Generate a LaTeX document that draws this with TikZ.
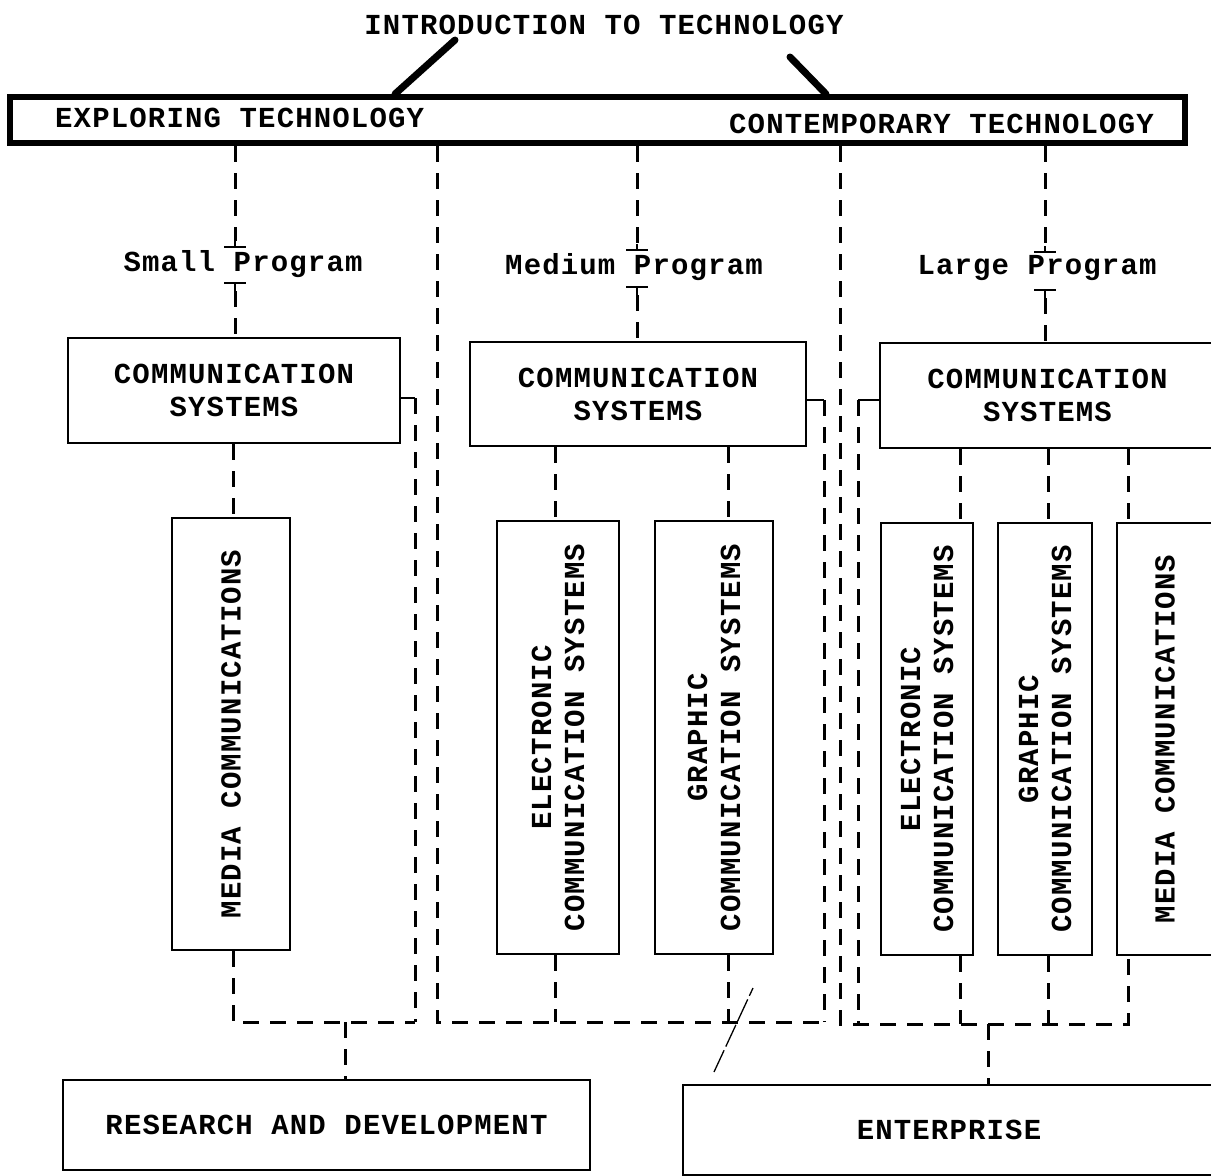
\documentclass[tikz,border=0pt]{standalone}
\usepackage{fontspec}
\newfontfamily\tw[LetterSpace=4]{Liberation Mono}
\begin{document}
\begin{tikzpicture}[x=1pt,y=-1pt,
  txt/.style={font=\tw\bfseries\fontsize{29}{33}\selectfont, inner sep=0pt, align=center},
  box/.style={draw, line width=2.5pt, txt},
  dsh/.style={line width=3pt, dash pattern=on 16pt off 11pt},
  sol/.style={line width=2.5pt},
  heavy/.style={line width=7pt, line cap=round}]
\useasboundingbox[fill=white] (0,0) rectangle (1211,1176);

% title and top bar
\node[txt] (title) at (604,25) {INTRODUCTION TO TECHNOLOGY};
\node[draw, line width=6pt, minimum width=1175, minimum height=46, inner sep=0pt] (bar) at (597.5,120) {};
\node[txt, anchor=west] (expl) at (55,118) {EXPLORING TECHNOLOGY};
\node[txt, anchor=east] (cont) at (1154,124) {CONTEMPORARY TECHNOLOGY};
\coordinate (tl) at (455,40);
\coordinate (tr) at (790,57);
\coordinate (bl) at (395,0);
\coordinate (br) at (826,0);
\draw[heavy] (tl) -- (bar.north -| bl);
\draw[heavy] (tr) -- (bar.north -| br);

% program labels
\node[txt] (sp) at (243,264) {Small Program};
\node[txt] (mp) at (634,267) {Medium Program};
\node[txt] (lp) at (1037,268) {Large Program};

% communication systems boxes
\node[box, minimum width=332, minimum height=105] (cs1) at (234,390.5) {COMMUNICATION\\SYSTEMS};
\node[box, minimum width=336, minimum height=104] (cs2) at (638,394) {COMMUNICATION\\SYSTEMS};
\node[box, minimum width=335, minimum height=105] (cs3) at (1047.5,395.5) {COMMUNICATION\\SYSTEMS};

% vertical boxes (rotated: east = top, west = bottom)
\node[box, rotate=90, minimum width=432, minimum height=118] (media1) at (231,734) {MEDIA COMMUNICATIONS};
\node[box, rotate=90, minimum width=433, minimum height=122] (elec2) at (558,737.5) {ELECTRONIC\\COMMUNICATION SYSTEMS};
\node[box, rotate=90, minimum width=433, minimum height=118] (graph2) at (714,737.5) {GRAPHIC\\COMMUNICATION SYSTEMS};
\node[box, rotate=90, minimum width=432, minimum height=92] (elec3) at (927,739) {ELECTRONIC\\COMMUNICATION SYSTEMS};
\node[box, rotate=90, minimum width=432, minimum height=94] (graph3) at (1045,739) {GRAPHIC\\COMMUNICATION SYSTEMS};
\node[box, rotate=90, minimum width=432, minimum height=96] (media3) at (1165,739) {MEDIA COMMUNICATIONS};

% bottom boxes
\node[box, minimum width=527, minimum height=90] (rd) at (326.5,1125) {RESEARCH AND DEVELOPMENT};
\node[box, minimum width=532, minimum height=90] (ent) at (949,1130) {ENTERPRISE};

% bar to programs with tick marks
\coordinate (a1) at (235,247); \coordinate (b1) at (235,283);
\coordinate (a2) at (637,250); \coordinate (b2) at (637,287);
\coordinate (a3) at (1045,252); \coordinate (b3) at (1045,290);
\foreach \a/\b/\c in {a1/b1/cs1, a2/b2/cs2, a3/b3/cs3}{
  \draw[dsh] (bar.south -| \a) -- ([yshift=6pt]\a);
  \draw[sol] ([yshift=6pt]\a) -- (\a);
  \draw[sol] ([xshift=-11pt]\a) -- ([xshift=11pt]\a);
  \draw[sol] ([xshift=-11pt]\b) -- ([xshift=11pt]\b);
  \draw[sol] (\b) -- ([yshift=-8pt]\b);
  \draw[dsh] ([yshift=-8pt]\b) -- (\c.north -| \b);
}

% left group
\coordinate (k1) at (415,398);
\coordinate (h1) at (415,1022);
\coordinate (j1) at (345,1022);
\coordinate (x233) at (233,0);
\draw[dsh] (cs1.south -| x233) -- (media1.east -| x233);
\draw[dsh] (media1.west -| x233) |- (h1);
\draw[sol] (cs1.east |- k1) -- (k1);
\draw[dsh] (k1) -- (h1);
\draw[dsh] (j1) -- (rd.north -| j1);

% middle group
\coordinate (v1) at (437,0);
\coordinate (k2) at (824,400);
\coordinate (h2) at (824,1022);
\coordinate (x555) at (555,0);
\coordinate (x728) at (728,0);
\draw[dsh] (bar.south -| v1) |- (h2);
\draw[sol] (cs2.east |- k2) -- (k2);
\draw[dsh] (k2) -- (h2);
\draw[dsh] (cs2.south -| x555) -- (elec2.east -| x555);
\draw[dsh] (elec2.west -| x555) -- (h2 -| x555);
\draw[dsh] (cs2.south -| x728) -- (graph2.east -| x728);
\draw[dsh] (graph2.west -| x728) -- (h2 -| x728);
\draw[line width=1.3pt, dash pattern=on 24pt off 4pt] (714,1072) -- (753,988);

% right group
\coordinate (v2) at (840,0);
\coordinate (k3) at (858,400);
\coordinate (h3) at (1128,1024);
\coordinate (x960) at (960,0);
\coordinate (x1048) at (1048,0);
\coordinate (j3) at (988,1024);
\draw[dsh] (bar.south -| v2) |- (h3) -- (media3.west -| h3);
\draw[sol] (cs3.west |- k3) -- (k3);
\draw[dsh] (k3) -- (k3 |- h3);
\draw[dsh] (cs3.south -| x960) -- (elec3.east -| x960);
\draw[dsh] (elec3.west -| x960) -- (h3 -| x960);
\draw[dsh] (cs3.south -| x1048) -- (graph3.east -| x1048);
\draw[dsh] (graph3.west -| x1048) -- (h3 -| x1048);
\draw[dsh] (cs3.south -| h3) -- (media3.east -| h3);
\draw[dsh] (j3) -- (ent.north -| j3);
\end{tikzpicture}
\end{document}
